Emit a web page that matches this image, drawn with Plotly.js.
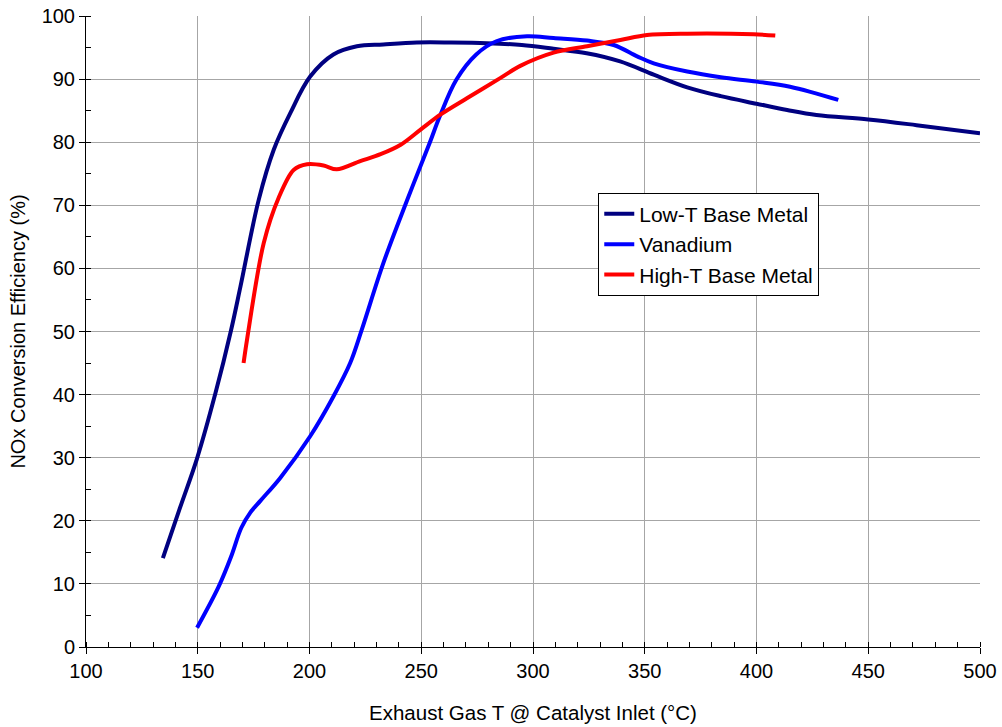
<!DOCTYPE html>
<html>
<head>
<meta charset="utf-8">
<script src="https://cdn.plot.ly/plotly-3.0.1.min.js"></script>
<style>html,body{margin:0;padding:0;background:#fff;}#chart{width:1002px;height:727px;}</style>
</head>
<body>
<div id="chart"></div>
<script>
// Data
var lowT_x = [134.4, 142, 149.7, 157.9, 164.9, 169.1, 177.3, 184, 191.4, 200.3, 210.7, 221.2, 233, 248, 263, 279.4, 295, 309.2, 324, 339, 354, 369, 384, 400, 413.7, 426.8, 450, 471.6, 500];
var lowT_y = [14.1, 22, 29.9, 40.2, 50.2, 57.1, 70.9, 78.8, 84.6, 90.4, 93.9, 95.2, 95.5, 95.8, 95.8, 95.7, 95.4, 94.8, 94.1, 92.8, 90.7, 88.7, 87.3, 86.1, 85.1, 84.3, 83.6, 82.7, 81.4];

var van_x = [149.7, 159.4, 164.9, 169.5, 173.5, 178.1, 186.9, 200.3, 210.7, 218.2, 223.4, 233, 244.1, 253.8, 258.3, 265.7, 274.6, 283.6, 297.3, 309.2, 324.2, 336.1, 346.6, 354, 369, 384, 400, 415, 436.6];
var van_y = [3.06, 9.6, 14.3, 18.9, 21.3, 23.2, 26.8, 33.4, 39.7, 45, 50.3, 60.8, 71.2, 79.9, 84.1, 89.9, 93.9, 96, 96.8, 96.5, 96.1, 95.4, 93.6, 92.5, 91.2, 90.3, 89.6, 88.8, 86.7];

var highT_x = [170.5, 172, 179.5, 186.2, 192.9, 198.9, 206.3, 212.2, 222.7, 231.8, 240.8, 249.7, 258.7, 270.6, 285.5, 294.3, 309.2, 324.2, 339.1, 351, 369, 398.7, 408.4];
var highT_y = [45, 48.6, 64, 71.2, 75.6, 76.5, 76.3, 75.7, 77, 78.1, 79.6, 82, 84.4, 87, 90.2, 92.1, 94.2, 95.2, 96.2, 97, 97.2, 97.1, 96.9];

var seriesNames = ['Low-T Base Metal', 'Vanadium', 'High-T Base Metal'];
var xTitle = 'Exhaust Gas T @ Catalyst Inlet (°C)';
var yTitle = 'NOx Conversion Efficiency (%)';
var xMajor = [100, 150, 200, 250, 300, 350, 400, 450, 500];
var yMajor = [0, 10, 20, 30, 40, 50, 60, 70, 80, 90, 100];

var F = 'Arial, "Liberation Sans", sans-serif';

var traces = [
  {x: lowT_x, y: lowT_y, name: seriesNames[0], mode: 'lines', line: {color: '#000080', width: 4, shape: 'spline', smoothing: 1}},
  {x: van_x, y: van_y, name: seriesNames[1], mode: 'lines', line: {color: '#0000FF', width: 4, shape: 'spline', smoothing: 1}},
  {x: highT_x, y: highT_y, name: seriesNames[2], mode: 'lines', line: {color: '#FF0000', width: 4, shape: 'spline', smoothing: 0.9}},
  {x: [], y: [], xaxis: 'x2', yaxis: 'y2', showlegend: false, hoverinfo: 'skip'}
];

var layout = {
  width: 1002, height: 727,
  margin: {l: 86, r: 22, t: 16, b: 80},
  paper_bgcolor: '#fff', plot_bgcolor: '#fff',
  font: {family: F, color: '#000', size: 20},
  showlegend: true,
  legend: {
    x: 0.573, y: 0.72, xanchor: 'left', yanchor: 'top',
    bgcolor: '#fff', bordercolor: '#000', borderwidth: 1,
    font: {family: F, size: 21, color: '#000'},
    tracegroupgap: 0
  },
  xaxis: {
    range: [100, 500], tickvals: xMajor, ticktext: xMajor.map(String),
    showline: true, linecolor: '#000', linewidth: 1,
    ticks: 'outside', ticklen: 6, tickcolor: '#000', tickwidth: 1,
    showgrid: true, gridcolor: '#a6a6a6', gridwidth: 1, zeroline: false,
    tickfont: {family: F, size: 20},
    minor: {dtick: 10, ticks: 'inside', ticklen: 5, tickcolor: '#000', showgrid: false},
    title: {text: xTitle, font: {family: F, size: 20.5}, standoff: 24}
  },
  yaxis: {
    range: [0, 100], tickvals: yMajor, ticktext: yMajor.map(String),
    showline: true, linecolor: '#000', linewidth: 1,
    ticks: 'outside', ticklen: 6, tickcolor: '#000', tickwidth: 1,
    showgrid: true, gridcolor: '#a6a6a6', gridwidth: 1, zeroline: false,
    tickfont: {family: F, size: 20},
    minor: {dtick: 5, ticks: 'inside', ticklen: 5, tickcolor: '#000', showgrid: false},
    title: {text: yTitle, font: {family: F, size: 20}, standoff: 10}
  },
  xaxis2: {
    overlaying: 'x', anchor: 'y', range: [100, 500], tickvals: xMajor,
    ticks: 'inside', ticklen: 5, tickcolor: '#000', showticklabels: false,
    showgrid: false, zeroline: false, showline: false, side: 'bottom'
  },
  yaxis2: {
    overlaying: 'y', anchor: 'x', range: [0, 100], tickvals: yMajor,
    ticks: 'inside', ticklen: 5, tickcolor: '#000', showticklabels: false,
    showgrid: false, zeroline: false, showline: false, side: 'left'
  }
};

Plotly.newPlot('chart', traces, layout, {displayModeBar: false, staticPlot: true});
</script>
</body>
</html>
